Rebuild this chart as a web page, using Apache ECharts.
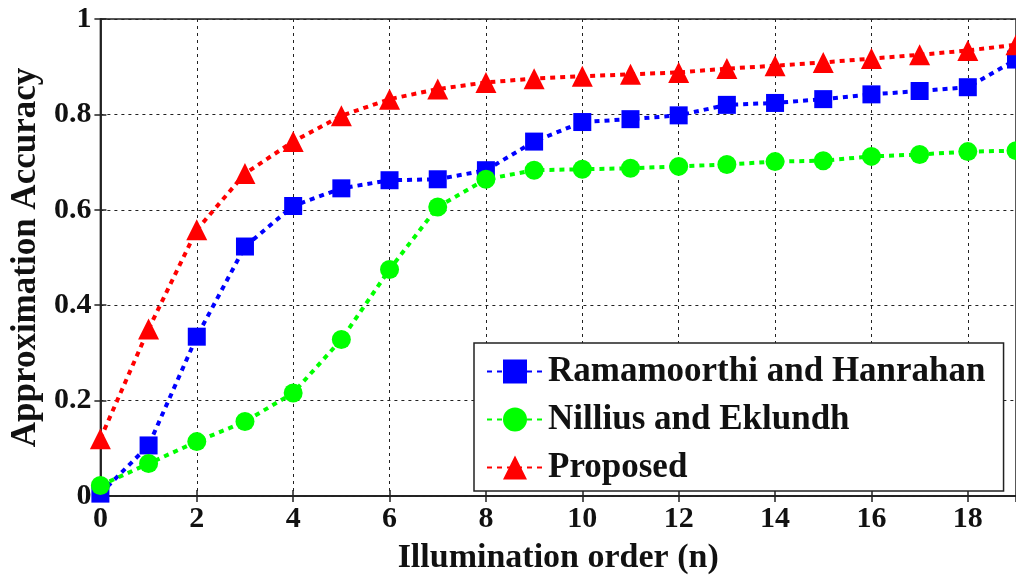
<!DOCTYPE html>
<html>
<head>
<meta charset="utf-8">
<script src="https://cdn.jsdelivr.net/npm/echarts@6/dist/echarts.min.js"></script>
<style>
html,body{margin:0;padding:0;background:#fff;}
#chart{width:1016px;height:580px;}
</style>
</head>
<body>
<div id="chart"></div>
<script>
const orders = [0,1,2,3,4,5,6,7,8,9,10,11,12,13,14,15,16,17,18,19];
const ramamoorthi = [0.005,0.106,0.334,0.523,0.608,0.645,0.662,0.664,0.683,0.743,0.784,0.790,0.798,0.820,0.824,0.832,0.842,0.849,0.857,0.915];
const nillius = [0.022,0.068,0.114,0.156,0.216,0.328,0.475,0.606,0.664,0.683,0.685,0.687,0.691,0.695,0.701,0.703,0.712,0.716,0.722,0.724];
const proposed = [0.120,0.350,0.558,0.676,0.743,0.797,0.832,0.853,0.867,0.875,0.880,0.884,0.888,0.896,0.902,0.909,0.917,0.925,0.934,0.946];
const seriesNames = ['Ramamoorthi and Hanrahan','Nillius and Eklundh','Proposed'];
const xTitle = 'Illumination order (n)';
const yTitle = 'Approximation Accuracy';

const FONT = '"Liberation Serif", "Times New Roman", serif';
const pair = arr => arr.map((v, i) => [orders[i], v]);

const chart = echarts.init(document.getElementById('chart'), null, {renderer: 'canvas'});

const axisLineStyle = {color: '#222', width: 1.5};
const gridLine = {show: true, lineStyle: {color: '#222', width: 1, type: [3, 4]}};

function mkSeries(name, data, color, symbol, size) {
  return {
    name: name,
    type: 'line',
    data: pair(data),
    symbol: symbol,
    symbolSize: size,
    clip: false,
    itemStyle: {color: color},
    lineStyle: {color: color, width: 4, type: [5, 5]},
    z: 3
  };
}

chart.setOption({
  animation: false,
  backgroundColor: '#fff',
  grid: {left: 98, top: 19, right: 0, bottom: 79, show: true, borderColor: '#222', borderWidth: 1.5},
  legend: {
    orient: 'vertical',
    left: 474,
    top: 343,
    padding: [11, 18, 6, 12],
    backgroundColor: '#fff',
    borderColor: '#222',
    borderWidth: 1.5,
    itemWidth: 56,
    itemHeight: 30,
    itemGap: 13,
    itemTextGap: 12,
    textStyle: {fontFamily: FONT, fontWeight: 'bold', fontSize: 35, color: '#111', lineHeight: 34},
    data: seriesNames
  },
  xAxis: [{
    type: 'value', min: 0, max: 19, interval: 2,
    name: xTitle, nameLocation: 'middle', nameGap: 45,
    nameTextStyle: {fontFamily: FONT, fontWeight: 'bold', fontSize: 34, color: '#111'},
    axisLine: {show: true, lineStyle: axisLineStyle},
    axisTick: {show: true, inside: true, length: 6, lineStyle: axisLineStyle},
    axisLabel: {fontFamily: FONT, fontWeight: 'bold', fontSize: 30, color: '#111', margin: 8, showMaxLabel: false},
    splitLine: gridLine
  }, {
    type: 'value', min: 0, max: 19, interval: 2, position: 'top',
    axisLine: {show: true, lineStyle: axisLineStyle},
    axisTick: {show: true, inside: true, length: 6, lineStyle: axisLineStyle},
    axisLabel: {show: false},
    splitLine: {show: false}
  }],
  yAxis: [{
    type: 'value', min: 0, max: 1, interval: 0.2,
    name: yTitle, nameLocation: 'middle', nameGap: 43,
    nameTextStyle: {fontFamily: FONT, fontWeight: 'bold', fontSize: 35, color: '#111'},
    axisLine: {show: true, lineStyle: axisLineStyle},
    axisTick: {show: true, inside: true, length: 6, lineStyle: axisLineStyle},
    axisLabel: {fontFamily: FONT, fontWeight: 'bold', fontSize: 30, color: '#111', margin: 9,
      formatter: v => (Math.round(v * 10) / 10).toString()},
    splitLine: gridLine
  }, {
    type: 'value', min: 0, max: 1, interval: 0.2, position: 'right',
    axisLine: {show: true, lineStyle: axisLineStyle},
    axisTick: {show: true, inside: true, length: 6, lineStyle: axisLineStyle},
    axisLabel: {show: false},
    splitLine: {show: false}
  }],
  series: [
    mkSeries(seriesNames[0], ramamoorthi, '#0000ff', 'rect', 18),
    mkSeries(seriesNames[1], nillius, '#00ff00', 'circle', 19),
    mkSeries(seriesNames[2], proposed, '#ff0000', 'triangle', 21)
  ]
});
</script>
</body>
</html>
